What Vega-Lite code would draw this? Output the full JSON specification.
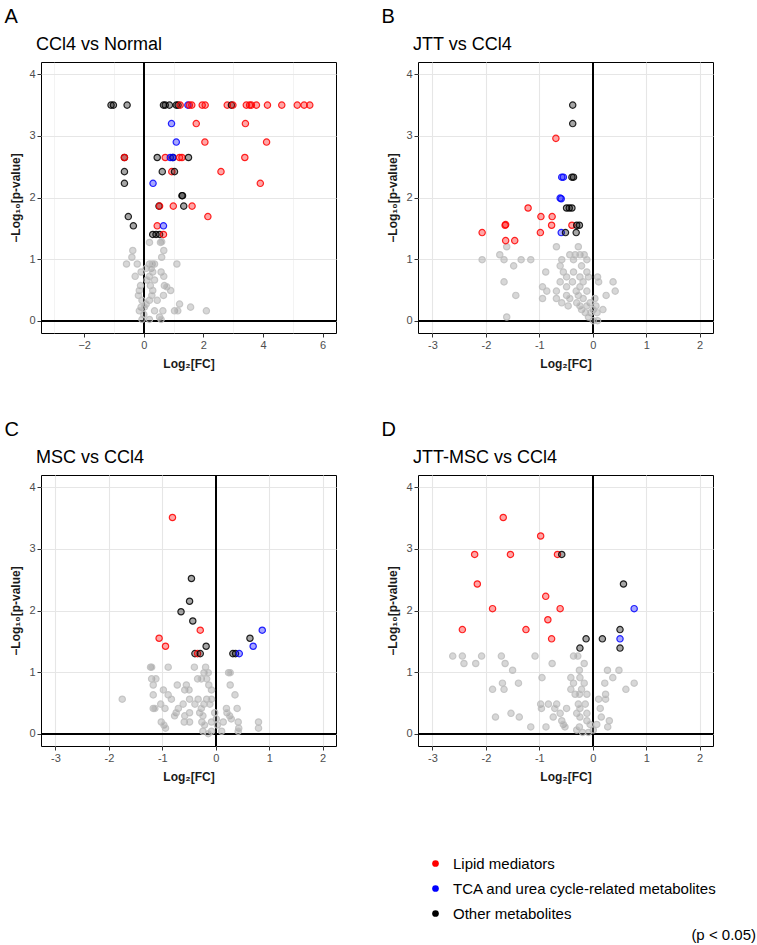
{
"$schema":"https://vega.github.io/schema/vega-lite/v6.json",
"padding":{"left":4,"top":7,"right":0,"bottom":0},
"datasets":{
"A":[
{"x":0.19,"y":1.27,"c":"N"},{"x":0.56,"y":1.27,"c":"N"},{"x":0.6,"y":1.28,"c":"N"},{"x":-0.37,"y":1.14,"c":"N"},{"x":0.67,"y":1.14,"c":"N"},{"x":-0.4,"y":1.03,"c":"N"},{"x":0.6,"y":1.03,"c":"N"},{"x":-0.58,"y":0.92,"c":"N"},{"x":-0.22,"y":0.92,"c":"N"},{"x":0.19,"y":0.92,"c":"N"},{"x":0.28,"y":0.92,"c":"N"},{"x":0.36,"y":0.92,"c":"N"},{"x":1.11,"y":0.92,"c":"N"},{"x":0.08,"y":0.85,"c":"N"},{"x":0.25,"y":0.85,"c":"N"},{"x":-0.09,"y":0.79,"c":"N"},{"x":0.3,"y":0.79,"c":"N"},{"x":0.58,"y":0.79,"c":"N"},{"x":-0.29,"y":0.72,"c":"N"},{"x":0.19,"y":0.72,"c":"N"},{"x":0.67,"y":0.72,"c":"N"},{"x":0.11,"y":0.66,"c":"N"},{"x":0.36,"y":0.66,"c":"N"},{"x":-0.11,"y":0.57,"c":"N"},{"x":0.22,"y":0.57,"c":"N"},{"x":0.69,"y":0.57,"c":"N"},{"x":0.77,"y":0.55,"c":"N"},{"x":-0.15,"y":0.49,"c":"N"},{"x":0.3,"y":0.49,"c":"N"},{"x":0.9,"y":0.49,"c":"N"},{"x":-0.18,"y":0.41,"c":"N"},{"x":0.27,"y":0.41,"c":"N"},{"x":0.66,"y":0.41,"c":"N"},{"x":-0.06,"y":0.33,"c":"N"},{"x":0.19,"y":0.33,"c":"N"},{"x":0.45,"y":0.33,"c":"N"},{"x":0.08,"y":0.27,"c":"N"},{"x":1.2,"y":0.27,"c":"N"},{"x":-0.09,"y":0.22,"c":"N"},{"x":0.02,"y":0.22,"c":"N"},{"x":1.57,"y":0.22,"c":"N"},{"x":-0.15,"y":0.16,"c":"N"},{"x":0.36,"y":0.16,"c":"N"},{"x":0.64,"y":0.16,"c":"N"},{"x":1.03,"y":0.16,"c":"N"},{"x":1.14,"y":0.16,"c":"N"},{"x":2.1,"y":0.16,"c":"N"},{"x":0.0,"y":0.1,"c":"N"},{"x":0.53,"y":0.06,"c":"N"},{"x":-0.06,"y":0.02,"c":"N"},{"x":0.19,"y":0.02,"c":"N"},{"x":0.58,"y":0.02,"c":"N"},
{"x":-1.1,"y":3.5,"c":"O"},{"x":-1.02,"y":3.5,"c":"O"},{"x":-0.56,"y":3.5,"c":"O"},{"x":0.66,"y":3.5,"c":"O"},{"x":0.72,"y":3.5,"c":"O"},{"x":0.86,"y":3.5,"c":"O"},{"x":1.09,"y":3.5,"c":"O"},{"x":1.15,"y":3.5,"c":"O"},{"x":1.22,"y":3.5,"c":"L"},{"x":1.48,"y":3.5,"c":"T"},{"x":1.53,"y":3.5,"c":"L"},{"x":1.61,"y":3.5,"c":"L"},{"x":1.96,"y":3.5,"c":"L"},{"x":2.06,"y":3.5,"c":"L"},{"x":2.8,"y":3.5,"c":"L"},{"x":2.94,"y":3.5,"c":"O"},{"x":2.99,"y":3.5,"c":"L"},{"x":3.44,"y":3.5,"c":"L"},{"x":3.55,"y":3.5,"c":"L"},{"x":3.61,"y":3.5,"c":"L"},{"x":3.78,"y":3.5,"c":"L"},{"x":4.15,"y":3.5,"c":"L"},{"x":4.63,"y":3.5,"c":"L"},{"x":5.15,"y":3.5,"c":"L"},{"x":5.38,"y":3.5,"c":"L"},{"x":5.57,"y":3.5,"c":"L"},
{"x":0.93,"y":3.2,"c":"T"},{"x":1.76,"y":3.2,"c":"L"},{"x":3.41,"y":3.2,"c":"L"},
{"x":1.09,"y":2.9,"c":"T"},{"x":2.05,"y":2.9,"c":"L"},{"x":4.12,"y":2.9,"c":"L"},
{"x":-0.65,"y":2.65,"c":"O"},{"x":-0.65,"y":2.65,"c":"L"},{"x":0.45,"y":2.65,"c":"O"},{"x":0.72,"y":2.65,"c":"L"},{"x":0.89,"y":2.65,"c":"T"},{"x":0.98,"y":2.65,"c":"O"},{"x":0.97,"y":2.65,"c":"T"},{"x":1.2,"y":2.65,"c":"L"},{"x":1.28,"y":2.65,"c":"L"},{"x":1.5,"y":2.65,"c":"O"},{"x":3.39,"y":2.65,"c":"L"},
{"x":-0.65,"y":2.42,"c":"O"},{"x":0.62,"y":2.42,"c":"O"},{"x":0.94,"y":2.42,"c":"L"},{"x":1.03,"y":2.42,"c":"O"},{"x":2.59,"y":2.42,"c":"L"},
{"x":-0.65,"y":2.23,"c":"O"},{"x":0.31,"y":2.23,"c":"T"},{"x":3.91,"y":2.23,"c":"L"},
{"x":1.28,"y":2.03,"c":"O"},{"x":1.3,"y":2.03,"c":"O"},
{"x":0.51,"y":1.86,"c":"O"},{"x":0.53,"y":1.86,"c":"L"},{"x":0.99,"y":1.86,"c":"L"},{"x":1.34,"y":1.86,"c":"O"},{"x":1.62,"y":1.86,"c":"L"},
{"x":-0.52,"y":1.69,"c":"O"},{"x":2.15,"y":1.69,"c":"L"},
{"x":-0.35,"y":1.54,"c":"O"},{"x":0.45,"y":1.54,"c":"L"},{"x":0.66,"y":1.54,"c":"T"},
{"x":0.3,"y":1.4,"c":"O"},{"x":0.41,"y":1.4,"c":"O"},{"x":0.53,"y":1.4,"c":"O"},{"x":0.66,"y":1.4,"c":"L"}
],
"B":[
{"x":-1.61,"y":1.2,"c":"N"},{"x":-0.68,"y":1.2,"c":"N"},{"x":-0.27,"y":1.2,"c":"N"},{"x":-1.74,"y":1.07,"c":"N"},{"x":-0.43,"y":1.07,"c":"N"},{"x":-0.33,"y":1.07,"c":"N"},{"x":-0.24,"y":1.07,"c":"N"},{"x":-0.16,"y":1.07,"c":"N"},{"x":-2.07,"y":0.99,"c":"N"},{"x":-1.66,"y":0.99,"c":"N"},{"x":-1.34,"y":0.99,"c":"N"},{"x":-1.16,"y":0.99,"c":"N"},{"x":-0.58,"y":0.99,"c":"N"},{"x":-0.36,"y":0.99,"c":"N"},{"x":-0.11,"y":0.99,"c":"N"},{"x":-1.48,"y":0.89,"c":"N"},{"x":-0.61,"y":0.89,"c":"N"},{"x":-0.21,"y":0.89,"c":"N"},{"x":-0.88,"y":0.79,"c":"N"},{"x":-0.55,"y":0.79,"c":"N"},{"x":-0.36,"y":0.79,"c":"N"},{"x":-0.11,"y":0.79,"c":"N"},{"x":-0.49,"y":0.71,"c":"N"},{"x":-0.24,"y":0.71,"c":"N"},{"x":-0.08,"y":0.71,"c":"N"},{"x":0.09,"y":0.71,"c":"N"},{"x":-1.66,"y":0.63,"c":"N"},{"x":-0.61,"y":0.63,"c":"N"},{"x":-0.38,"y":0.63,"c":"N"},{"x":-0.18,"y":0.63,"c":"N"},{"x":0.11,"y":0.63,"c":"N"},{"x":0.38,"y":0.63,"c":"N"},{"x":-0.94,"y":0.55,"c":"N"},{"x":-0.49,"y":0.55,"c":"N"},{"x":-0.24,"y":0.55,"c":"N"},{"x":-0.86,"y":0.48,"c":"N"},{"x":-0.68,"y":0.48,"c":"N"},{"x":-0.31,"y":0.48,"c":"N"},{"x":-0.11,"y":0.48,"c":"N"},{"x":0.42,"y":0.48,"c":"N"},{"x":-1.44,"y":0.41,"c":"N"},{"x":-0.49,"y":0.41,"c":"N"},{"x":-0.27,"y":0.41,"c":"N"},{"x":0.25,"y":0.41,"c":"N"},{"x":-0.94,"y":0.36,"c":"N"},{"x":-0.68,"y":0.36,"c":"N"},{"x":-0.43,"y":0.36,"c":"N"},{"x":-0.18,"y":0.36,"c":"N"},{"x":0.04,"y":0.36,"c":"N"},{"x":-0.58,"y":0.29,"c":"N"},{"x":-0.3,"y":0.29,"c":"N"},{"x":-0.05,"y":0.29,"c":"N"},{"x":-0.46,"y":0.24,"c":"N"},{"x":-0.24,"y":0.24,"c":"N"},{"x":-0.11,"y":0.24,"c":"N"},{"x":0.06,"y":0.24,"c":"N"},{"x":-0.21,"y":0.18,"c":"N"},{"x":0.01,"y":0.18,"c":"N"},{"x":0.19,"y":0.18,"c":"N"},{"x":-0.14,"y":0.13,"c":"N"},{"x":-0.04,"y":0.13,"c":"N"},{"x":0.08,"y":0.13,"c":"N"},{"x":-1.61,"y":0.06,"c":"N"},{"x":-0.08,"y":0.06,"c":"N"},{"x":0.01,"y":0.0,"c":"N"},{"x":0.09,"y":0.0,"c":"N"},
{"x":-0.375,"y":3.5,"c":"O"},{"x":-0.375,"y":3.2,"c":"O"},{"x":-0.69,"y":2.96,"c":"L"},{"x":-0.58,"y":2.33,"c":"T"},{"x":-0.55,"y":2.33,"c":"T"},{"x":-0.39,"y":2.33,"c":"O"},{"x":-0.36,"y":2.33,"c":"O"},{"x":-0.61,"y":1.99,"c":"T"},{"x":-0.59,"y":1.98,"c":"T"},{"x":-1.21,"y":1.83,"c":"L"},{"x":-0.49,"y":1.83,"c":"O"},{"x":-0.44,"y":1.83,"c":"O"},{"x":-0.39,"y":1.83,"c":"O"},{"x":-0.97,"y":1.69,"c":"L"},{"x":-0.76,"y":1.69,"c":"L"},{"x":-1.64,"y":1.55,"c":"L"},{"x":-1.63,"y":1.56,"c":"L"},{"x":-0.77,"y":1.55,"c":"L"},{"x":-0.39,"y":1.55,"c":"L"},{"x":-0.3,"y":1.55,"c":"O"},{"x":-0.25,"y":1.55,"c":"O"},{"x":-2.07,"y":1.43,"c":"L"},{"x":-0.98,"y":1.43,"c":"L"},{"x":-0.59,"y":1.43,"c":"T"},{"x":-0.51,"y":1.43,"c":"O"},{"x":-0.31,"y":1.43,"c":"O"},{"x":-1.63,"y":1.3,"c":"L"},{"x":-1.46,"y":1.3,"c":"L"}
],
"C":[
{"x":-1.22,"y":1.08,"c":"N"},{"x":-1.2,"y":1.08,"c":"N"},{"x":-0.89,"y":1.08,"c":"N"},{"x":-0.4,"y":1.08,"c":"N"},{"x":-0.19,"y":1.08,"c":"N"},{"x":-0.22,"y":0.99,"c":"N"},{"x":-0.14,"y":0.99,"c":"N"},{"x":0.24,"y":0.99,"c":"N"},{"x":0.27,"y":0.99,"c":"N"},{"x":-1.2,"y":0.89,"c":"N"},{"x":-1.12,"y":0.89,"c":"N"},{"x":-0.34,"y":0.89,"c":"N"},{"x":-0.27,"y":0.89,"c":"N"},{"x":-0.17,"y":0.89,"c":"N"},{"x":-1.17,"y":0.79,"c":"N"},{"x":-0.72,"y":0.79,"c":"N"},{"x":-0.55,"y":0.79,"c":"N"},{"x":-0.13,"y":0.79,"c":"N"},{"x":0.27,"y":0.79,"c":"N"},{"x":-0.98,"y":0.71,"c":"N"},{"x":-0.58,"y":0.71,"c":"N"},{"x":-0.5,"y":0.71,"c":"N"},{"x":-0.08,"y":0.71,"c":"N"},{"x":-1.17,"y":0.63,"c":"N"},{"x":-0.89,"y":0.63,"c":"N"},{"x":0.36,"y":0.63,"c":"N"},{"x":-1.75,"y":0.56,"c":"N"},{"x":-0.83,"y":0.56,"c":"N"},{"x":-0.49,"y":0.56,"c":"N"},{"x":-0.33,"y":0.56,"c":"N"},{"x":-0.17,"y":0.56,"c":"N"},{"x":-0.08,"y":0.56,"c":"N"},{"x":-1.03,"y":0.48,"c":"N"},{"x":-0.61,"y":0.48,"c":"N"},{"x":-0.39,"y":0.48,"c":"N"},{"x":-0.22,"y":0.48,"c":"N"},{"x":-0.11,"y":0.48,"c":"N"},{"x":-1.17,"y":0.41,"c":"N"},{"x":-1.14,"y":0.41,"c":"N"},{"x":-0.95,"y":0.41,"c":"N"},{"x":-0.7,"y":0.41,"c":"N"},{"x":-0.27,"y":0.41,"c":"N"},{"x":0.2,"y":0.41,"c":"N"},{"x":0.4,"y":0.41,"c":"N"},{"x":-0.74,"y":0.34,"c":"N"},{"x":-0.49,"y":0.34,"c":"N"},{"x":-0.3,"y":0.34,"c":"N"},{"x":-0.02,"y":0.34,"c":"N"},{"x":0.21,"y":0.34,"c":"N"},{"x":-0.77,"y":0.29,"c":"N"},{"x":-0.58,"y":0.29,"c":"N"},{"x":-0.24,"y":0.29,"c":"N"},{"x":0.26,"y":0.29,"c":"N"},{"x":0.01,"y":0.24,"c":"N"},{"x":0.29,"y":0.24,"c":"N"},{"x":-1.02,"y":0.19,"c":"N"},{"x":-0.59,"y":0.19,"c":"N"},{"x":-0.49,"y":0.19,"c":"N"},{"x":-0.26,"y":0.19,"c":"N"},{"x":-0.08,"y":0.19,"c":"N"},{"x":0.14,"y":0.19,"c":"N"},{"x":0.42,"y":0.19,"c":"N"},{"x":0.8,"y":0.19,"c":"N"},{"x":-0.97,"y":0.14,"c":"N"},{"x":-0.21,"y":0.14,"c":"N"},{"x":0.03,"y":0.14,"c":"N"},{"x":-0.94,"y":0.09,"c":"N"},{"x":0.43,"y":0.09,"c":"N"},{"x":0.8,"y":0.09,"c":"N"},{"x":-0.24,"y":0.04,"c":"N"},{"x":-0.08,"y":0.04,"c":"N"},{"x":0.11,"y":0.04,"c":"N"},{"x":0.42,"y":0.04,"c":"N"},{"x":-0.14,"y":0.0,"c":"N"},
{"x":-0.81,"y":3.51,"c":"L"},{"x":-0.455,"y":2.52,"c":"O"},{"x":-0.49,"y":2.15,"c":"O"},{"x":-0.65,"y":1.98,"c":"O"},{"x":-0.43,"y":1.83,"c":"O"},{"x":-0.29,"y":1.68,"c":"L"},{"x":0.87,"y":1.68,"c":"T"},{"x":-1.06,"y":1.55,"c":"L"},{"x":0.64,"y":1.55,"c":"O"},{"x":-0.94,"y":1.42,"c":"L"},{"x":-0.18,"y":1.42,"c":"O"},{"x":0.7,"y":1.42,"c":"T"},{"x":-0.39,"y":1.3,"c":"O"},{"x":-0.34,"y":1.3,"c":"L"},{"x":-0.29,"y":1.3,"c":"O"},{"x":0.32,"y":1.3,"c":"O"},{"x":0.37,"y":1.3,"c":"O"},{"x":0.44,"y":1.3,"c":"T"}
],
"D":[
{"x":-2.62,"y":1.26,"c":"N"},{"x":-2.44,"y":1.26,"c":"N"},{"x":-2.08,"y":1.26,"c":"N"},{"x":-1.71,"y":1.26,"c":"N"},{"x":-1.08,"y":1.26,"c":"N"},{"x":-0.36,"y":1.26,"c":"N"},{"x":-0.28,"y":1.26,"c":"N"},{"x":-2.41,"y":1.14,"c":"N"},{"x":-2.19,"y":1.14,"c":"N"},{"x":-1.64,"y":1.14,"c":"N"},{"x":-0.76,"y":1.14,"c":"N"},{"x":-0.16,"y":1.14,"c":"N"},{"x":-1.5,"y":1.03,"c":"N"},{"x":-0.25,"y":1.03,"c":"N"},{"x":0.275,"y":1.03,"c":"N"},{"x":0.49,"y":1.03,"c":"N"},{"x":-0.95,"y":0.91,"c":"N"},{"x":-0.41,"y":0.91,"c":"N"},{"x":-0.24,"y":0.91,"c":"N"},{"x":0.375,"y":0.91,"c":"N"},{"x":-1.69,"y":0.82,"c":"N"},{"x":-1.39,"y":0.82,"c":"N"},{"x":-0.36,"y":0.82,"c":"N"},{"x":-0.16,"y":0.82,"c":"N"},{"x":0.225,"y":0.82,"c":"N"},{"x":0.775,"y":0.82,"c":"N"},{"x":-1.875,"y":0.72,"c":"N"},{"x":-1.66,"y":0.72,"c":"N"},{"x":-0.41,"y":0.72,"c":"N"},{"x":-0.21,"y":0.72,"c":"N"},{"x":0.62,"y":0.72,"c":"N"},{"x":-0.33,"y":0.64,"c":"N"},{"x":-0.25,"y":0.64,"c":"N"},{"x":-0.11,"y":0.64,"c":"N"},{"x":0.24,"y":0.64,"c":"N"},{"x":0.11,"y":0.56,"c":"N"},{"x":0.24,"y":0.56,"c":"N"},{"x":-0.975,"y":0.48,"c":"N"},{"x":-0.83,"y":0.48,"c":"N"},{"x":-0.675,"y":0.48,"c":"N"},{"x":-0.27,"y":0.48,"c":"N"},{"x":-0.14,"y":0.48,"c":"N"},{"x":-0.96,"y":0.41,"c":"N"},{"x":-0.71,"y":0.41,"c":"N"},{"x":-0.49,"y":0.41,"c":"N"},{"x":-0.24,"y":0.41,"c":"N"},{"x":0.14,"y":0.41,"c":"N"},{"x":-1.53,"y":0.33,"c":"N"},{"x":-0.61,"y":0.33,"c":"N"},{"x":-0.3,"y":0.33,"c":"N"},{"x":-0.11,"y":0.33,"c":"N"},{"x":-1.82,"y":0.27,"c":"N"},{"x":-1.375,"y":0.27,"c":"N"},{"x":-0.74,"y":0.27,"c":"N"},{"x":-0.24,"y":0.27,"c":"N"},{"x":0.16,"y":0.27,"c":"N"},{"x":-0.58,"y":0.21,"c":"N"},{"x":-0.11,"y":0.21,"c":"N"},{"x":0.31,"y":0.21,"c":"N"},{"x":-0.55,"y":0.15,"c":"N"},{"x":-0.05,"y":0.15,"c":"N"},{"x":0.075,"y":0.15,"c":"N"},{"x":-1.16,"y":0.11,"c":"N"},{"x":-0.875,"y":0.11,"c":"N"},{"x":-0.52,"y":0.11,"c":"N"},{"x":-0.25,"y":0.11,"c":"N"},{"x":0.28,"y":0.11,"c":"N"},{"x":-0.3,"y":0.06,"c":"N"},{"x":0.01,"y":0.06,"c":"N"},{"x":-0.19,"y":0.02,"c":"N"},{"x":-0.08,"y":0.02,"c":"N"},
{"x":-1.675,"y":3.51,"c":"L"},{"x":-0.975,"y":3.21,"c":"L"},{"x":-2.21,"y":2.91,"c":"L"},{"x":-1.54,"y":2.91,"c":"L"},{"x":-0.66,"y":2.91,"c":"L"},{"x":-0.58,"y":2.91,"c":"O"},{"x":-2.16,"y":2.43,"c":"L"},{"x":0.575,"y":2.43,"c":"O"},{"x":-0.88,"y":2.23,"c":"L"},{"x":-1.875,"y":2.03,"c":"L"},{"x":-0.61,"y":2.03,"c":"L"},{"x":0.775,"y":2.03,"c":"T"},{"x":-0.84,"y":1.85,"c":"L"},{"x":-2.44,"y":1.69,"c":"L"},{"x":-1.25,"y":1.69,"c":"L"},{"x":0.51,"y":1.69,"c":"O"},{"x":-0.77,"y":1.54,"c":"L"},{"x":-0.125,"y":1.54,"c":"O"},{"x":0.18,"y":1.54,"c":"O"},{"x":0.51,"y":1.54,"c":"T"},{"x":-0.24,"y":1.39,"c":"O"},{"x":0.51,"y":1.39,"c":"O"}
]
},
"title":{"text":"(p < 0.05)","orient":"bottom","anchor":"end","fontSize":15,"fontWeight":"normal","color":"#000000","offset":6,"dx":39},
"spacing":50,
"vconcat":[
{"hconcat":[
{"title":{"text":"A","anchor":"start","fontSize":20,"fontWeight":"normal","color":"#000000","offset":8,"dx":-5},
"vconcat":[{
"width":295,"height":271,
"title":{"text":"CCl4 vs Normal","anchor":"start","frame":"group","fontSize":18,"fontWeight":"normal","color":"#000000","offset":8,"dx":-5},
"data":{"name":"A"},
"resolve":{"axis":{"x":"independent"}},
"layer":[
{"mark":{"type":"rule","color":"#000000","strokeWidth":1},"encoding":{"x":{"datum":0,"type":"quantitative","axis":{"orient":"bottom","values":[-3,-1,1,3,5],"labels":false,"ticks":false,"title":null,"grid":true,"gridWidth":0.5,"domain":false}}}},
{"mark":{"type":"rule","color":"#000000","strokeWidth":1},"encoding":{"y":{"datum":0,"type":"quantitative"}}},
{"mark":{"type":"circle","size":40,"fillOpacity":0.35,"strokeOpacity":0.85,"strokeWidth":1.2},
"encoding":{
"x":{"field":"x","type":"quantitative","scale":{"domain":[-3.45,6.45],"nice":false,"zero":false},"axis":{"orient":"bottom","title":"Log₂[FC]","values":[-2,0,2,4,6],"gridWidth":1.1}},
"y":{"field":"y","type":"quantitative","scale":{"domain":[-0.2,4.2],"nice":false,"zero":false},"axis":{"title":"−Log₁₀[p-value]","values":[0,0.5,1,1.5,2,2.5,3,3.5,4],"labelOverlap":false,"labelExpr":"datum.value % 1 === 0 ? '' + datum.value : ''","tickOpacity":{"condition":{"test":"datum.value % 1 === 0","value":1},"value":0},"gridWidth":{"condition":{"test":"datum.value % 1 === 0","value":1.1},"value":0.5}}},
"fill":{"field":"c","type":"nominal","scale":{"domain":["L","T","O","N"],"range":["#ff0000","#0000ff","#000000","#8c8c8c"]},"legend":{"orient":"none","legendX":387,"legendY":794,"title":null,"values":["L","T","O"],"labelExpr":"datum.label === 'L' ? 'Lipid mediators' : datum.label === 'T' ? 'TCA and urea cycle-related metabolites' : 'Other metabolites'","labelFontSize":15,"labelColor":"#000000","labelLimit":400,"symbolType":"circle","symbolSize":45,"labelOffset":10,"rowPadding":9,"encode":{"symbols":{"update":{"fillOpacity":{"value":1},"opacity":{"value":1},"strokeWidth":{"value":0}}}}}},
"stroke":{"field":"c","type":"nominal","scale":{"domain":["L","T","O","N"],"range":["#ff0000","#0000ff","#000000","#bfbfbf"]},"legend":null}
}}
]}]},
{"title":{"text":"B","anchor":"start","fontSize":20,"fontWeight":"normal","color":"#000000","offset":8,"dx":-5},
"vconcat":[{
"width":295,"height":271,
"title":{"text":"JTT vs CCl4","anchor":"start","frame":"group","fontSize":18,"fontWeight":"normal","color":"#000000","offset":8,"dx":-5},
"data":{"name":"B"},
"layer":[
{"mark":{"type":"rule","color":"#000000","strokeWidth":1},"encoding":{"x":{"datum":0,"type":"quantitative"}}},
{"mark":{"type":"rule","color":"#000000","strokeWidth":1},"encoding":{"y":{"datum":0,"type":"quantitative"}}},
{"mark":{"type":"circle","size":40,"fillOpacity":0.35,"strokeOpacity":0.85,"strokeWidth":1.2},
"encoding":{
"x":{"field":"x","type":"quantitative","scale":{"domain":[-3.27,2.25],"nice":false,"zero":false},"axis":{"title":"Log₂[FC]","values":[-3,-2.5,-2,-1.5,-1,-0.5,0,0.5,1,1.5,2],"labelOverlap":false,"labelExpr":"datum.value % 1 === 0 ? '' + datum.value : ''","tickOpacity":{"condition":{"test":"datum.value % 1 === 0","value":1},"value":0},"gridWidth":{"condition":{"test":"datum.value % 1 === 0","value":1.1},"value":0.5}}},
"y":{"field":"y","type":"quantitative","scale":{"domain":[-0.2,4.2],"nice":false,"zero":false},"axis":{"title":"−Log₁₀[p-value]","values":[0,0.5,1,1.5,2,2.5,3,3.5,4],"labelOverlap":false,"labelExpr":"datum.value % 1 === 0 ? '' + datum.value : ''","tickOpacity":{"condition":{"test":"datum.value % 1 === 0","value":1},"value":0},"gridWidth":{"condition":{"test":"datum.value % 1 === 0","value":1.1},"value":0.5}}},
"fill":{"field":"c","type":"nominal","scale":{"domain":["L","T","O","N"],"range":["#ff0000","#0000ff","#000000","#8c8c8c"]},"legend":{"orient":"none","legendX":387,"legendY":794,"title":null,"values":["L","T","O"],"labelExpr":"datum.label === 'L' ? 'Lipid mediators' : datum.label === 'T' ? 'TCA and urea cycle-related metabolites' : 'Other metabolites'","labelFontSize":15,"labelColor":"#000000","labelLimit":400,"symbolType":"circle","symbolSize":45,"labelOffset":10,"rowPadding":9,"encode":{"symbols":{"update":{"fillOpacity":{"value":1},"opacity":{"value":1},"strokeWidth":{"value":0}}}}}},
"stroke":{"field":"c","type":"nominal","scale":{"domain":["L","T","O","N"],"range":["#ff0000","#0000ff","#000000","#bfbfbf"]},"legend":null}
}}
]}]}
],"spacing":44},
{"hconcat":[
{"title":{"text":"C","anchor":"start","fontSize":20,"fontWeight":"normal","color":"#000000","offset":8,"dx":-5},
"vconcat":[{
"width":295,"height":271,
"title":{"text":"MSC vs CCl4","anchor":"start","frame":"group","fontSize":18,"fontWeight":"normal","color":"#000000","offset":8,"dx":-5},
"data":{"name":"C"},
"layer":[
{"mark":{"type":"rule","color":"#000000","strokeWidth":1},"encoding":{"x":{"datum":0,"type":"quantitative"}}},
{"mark":{"type":"rule","color":"#000000","strokeWidth":1},"encoding":{"y":{"datum":0,"type":"quantitative"}}},
{"mark":{"type":"circle","size":40,"fillOpacity":0.35,"strokeOpacity":0.85,"strokeWidth":1.2},
"encoding":{
"x":{"field":"x","type":"quantitative","scale":{"domain":[-3.27,2.25],"nice":false,"zero":false},"axis":{"title":"Log₂[FC]","values":[-3,-2.5,-2,-1.5,-1,-0.5,0,0.5,1,1.5,2],"labelOverlap":false,"labelExpr":"datum.value % 1 === 0 ? '' + datum.value : ''","tickOpacity":{"condition":{"test":"datum.value % 1 === 0","value":1},"value":0},"gridWidth":{"condition":{"test":"datum.value % 1 === 0","value":1.1},"value":0.5}}},
"y":{"field":"y","type":"quantitative","scale":{"domain":[-0.2,4.2],"nice":false,"zero":false},"axis":{"title":"−Log₁₀[p-value]","values":[0,0.5,1,1.5,2,2.5,3,3.5,4],"labelOverlap":false,"labelExpr":"datum.value % 1 === 0 ? '' + datum.value : ''","tickOpacity":{"condition":{"test":"datum.value % 1 === 0","value":1},"value":0},"gridWidth":{"condition":{"test":"datum.value % 1 === 0","value":1.1},"value":0.5}}},
"fill":{"field":"c","type":"nominal","scale":{"domain":["L","T","O","N"],"range":["#ff0000","#0000ff","#000000","#8c8c8c"]},"legend":{"orient":"none","legendX":387,"legendY":794,"title":null,"values":["L","T","O"],"labelExpr":"datum.label === 'L' ? 'Lipid mediators' : datum.label === 'T' ? 'TCA and urea cycle-related metabolites' : 'Other metabolites'","labelFontSize":15,"labelColor":"#000000","labelLimit":400,"symbolType":"circle","symbolSize":45,"labelOffset":10,"rowPadding":9,"encode":{"symbols":{"update":{"fillOpacity":{"value":1},"opacity":{"value":1},"strokeWidth":{"value":0}}}}}},
"stroke":{"field":"c","type":"nominal","scale":{"domain":["L","T","O","N"],"range":["#ff0000","#0000ff","#000000","#bfbfbf"]},"legend":null}
}}
]}]},
{"title":{"text":"D","anchor":"start","fontSize":20,"fontWeight":"normal","color":"#000000","offset":8,"dx":-5},
"vconcat":[{
"width":295,"height":271,
"title":{"text":"JTT-MSC vs CCl4","anchor":"start","frame":"group","fontSize":18,"fontWeight":"normal","color":"#000000","offset":8,"dx":-5},
"data":{"name":"D"},
"layer":[
{"mark":{"type":"rule","color":"#000000","strokeWidth":1},"encoding":{"x":{"datum":0,"type":"quantitative"}}},
{"mark":{"type":"rule","color":"#000000","strokeWidth":1},"encoding":{"y":{"datum":0,"type":"quantitative"}}},
{"mark":{"type":"circle","size":40,"fillOpacity":0.35,"strokeOpacity":0.85,"strokeWidth":1.2},
"encoding":{
"x":{"field":"x","type":"quantitative","scale":{"domain":[-3.27,2.25],"nice":false,"zero":false},"axis":{"title":"Log₂[FC]","values":[-3,-2.5,-2,-1.5,-1,-0.5,0,0.5,1,1.5,2],"labelOverlap":false,"labelExpr":"datum.value % 1 === 0 ? '' + datum.value : ''","tickOpacity":{"condition":{"test":"datum.value % 1 === 0","value":1},"value":0},"gridWidth":{"condition":{"test":"datum.value % 1 === 0","value":1.1},"value":0.5}}},
"y":{"field":"y","type":"quantitative","scale":{"domain":[-0.2,4.2],"nice":false,"zero":false},"axis":{"title":"−Log₁₀[p-value]","values":[0,0.5,1,1.5,2,2.5,3,3.5,4],"labelOverlap":false,"labelExpr":"datum.value % 1 === 0 ? '' + datum.value : ''","tickOpacity":{"condition":{"test":"datum.value % 1 === 0","value":1},"value":0},"gridWidth":{"condition":{"test":"datum.value % 1 === 0","value":1.1},"value":0.5}}},
"fill":{"field":"c","type":"nominal","scale":{"domain":["L","T","O","N"],"range":["#ff0000","#0000ff","#000000","#8c8c8c"]},"legend":{"orient":"none","legendX":387,"legendY":794,"title":null,"values":["L","T","O"],"labelExpr":"datum.label === 'L' ? 'Lipid mediators' : datum.label === 'T' ? 'TCA and urea cycle-related metabolites' : 'Other metabolites'","labelFontSize":15,"labelColor":"#000000","labelLimit":400,"symbolType":"circle","symbolSize":45,"labelOffset":10,"rowPadding":9,"encode":{"symbols":{"update":{"fillOpacity":{"value":1},"opacity":{"value":1},"strokeWidth":{"value":0}}}}}},
"stroke":{"field":"c","type":"nominal","scale":{"domain":["L","T","O","N"],"range":["#ff0000","#0000ff","#000000","#bfbfbf"]},"legend":null}
}}
]}]}
],"spacing":44}
],
"config":{
"font":"Liberation Sans",
"view":{"stroke":"#000000","strokeWidth":1},
"axis":{"domain":false,"grid":true,"gridColor":"#e6e6e6","tickColor":"#333333","tickSize":4,"labelColor":"#4d4d4d","labelFont":"Liberation Sans","labelFontSize":11,"labelPadding":2,"titleFont":"Liberation Sans","titleFontSize":12,"titleFontWeight":"bold","titleColor":"#1a1a1a"},
"axisX":{"titlePadding":8},
"axisY":{"titlePadding":6},
"legend":{"labelFont":"Liberation Sans"},
"title":{"font":"Liberation Sans"}
}
}
